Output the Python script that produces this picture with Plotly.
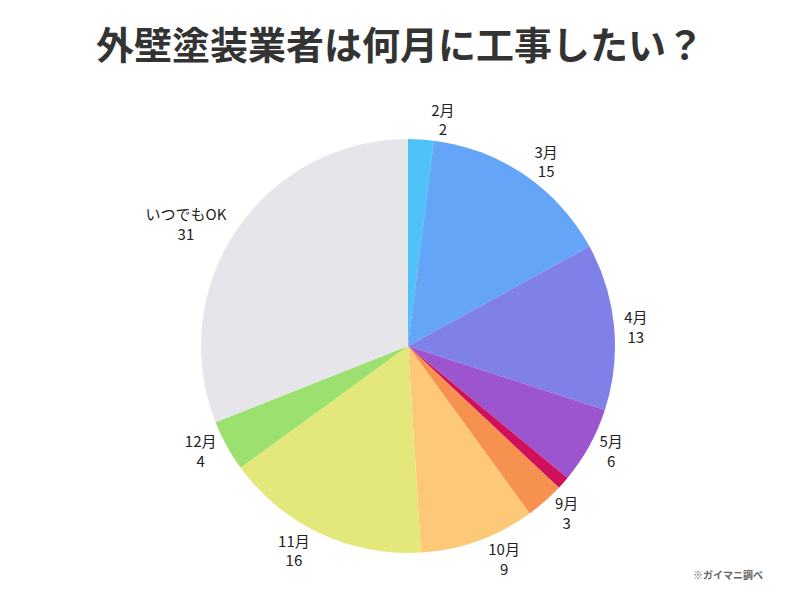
import plotly.graph_objects as go

labels = ["2月", "3月", "4月", "5月", "8月", "9月", "10月", "11月", "12月", "いつでもOK"]
values = [2, 15, 13, 6, 1, 3, 9, 16, 4, 31]
show_label = [True, True, True, True, False, True, True, True, True, True]
colors = ["#4FC3F7", "#64A5F8", "#7F80E8", "#9C55CF", "#D0105A",
          "#F79150", "#FDC878", "#E4E87A", "#9CE070", "#E6E6EA"]

texts = [f"{l}<br>{v}" if s else "" for l, v, s in zip(labels, values, show_label)]

fig = go.Figure(go.Pie(
    labels=labels,
    values=values,
    text=texts,
    textinfo="text",
    textposition="outside",
    sort=False,
    direction="clockwise",
    rotation=0,
    marker=dict(colors=colors, line=dict(width=0)),
    textfont=dict(family="Noto Sans CJK JP", size=15, color="#222222"),
    domain=dict(x=[201/800, 615/800], y=[47/600, 461/600]),
    showlegend=False,
    hoverinfo="label+value",
    automargin=False,
))

fig.update_layout(
    width=800, height=600,
    margin=dict(l=0, r=0, t=0, b=0),
    paper_bgcolor="white",
    title=dict(text="<b>外壁塗装業者は何月に工事したい？</b>",
               x=0.5, xanchor="center", y=1 - 46/600, yanchor="middle",
               font=dict(family="Noto Sans CJK JP", size=38, color="#333333")),
    annotations=[dict(text="<b>※ガイマニ調べ</b>", x=765/800, y=1 - 574/600,
                      xref="paper", yref="paper", xanchor="right", yanchor="middle",
                      showarrow=False,
                      font=dict(family="Noto Sans CJK JP", size=10, color="#666666"))],
)

fig.write_html("out.html")
